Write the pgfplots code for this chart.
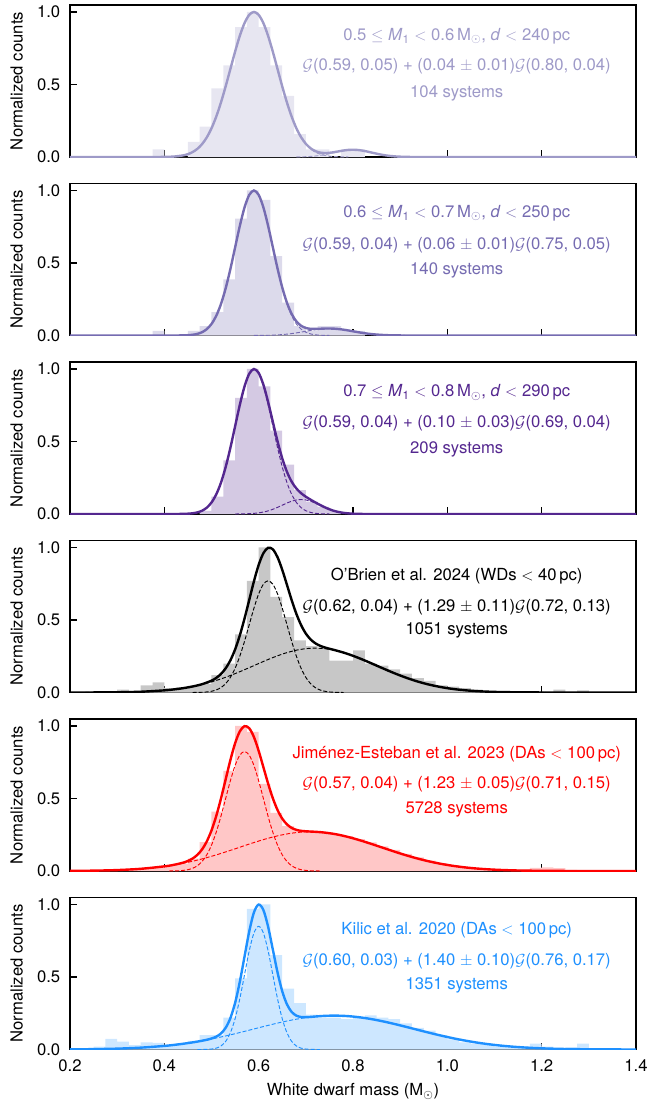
\documentclass[border=0pt]{standalone}
\usepackage{fontspec}
\setmainfont{TeX Gyre Heros}
\usepackage{pgfplots}
\pgfplotsset{compat=1.18}
\definecolor{c1}{HTML}{9E9AC8}
\definecolor{c2}{HTML}{756BB1}
\definecolor{c3}{HTML}{54278F}
\definecolor{c4}{HTML}{000000}
\definecolor{c5}{HTML}{FF0000}
\definecolor{c6}{HTML}{1E90FF}
\pgfplotsset{
 panel/.style={
  scale only axis, width=424.5pt, height=114pt,
  xmin=0.2, xmax=1.4, ymin=0, ymax=1.048,
  xtick={0.2,0.4,0.6,0.8,1.0,1.2,1.4}, ytick={0,0.5,1},
  tick pos=left, tick align=inside,
  major tick length=5pt,
  every tick/.style={black, line width=0.9pt},
  axis line style={line width=1.1pt},
  /pgf/number format/fixed, /pgf/number format/fixed zerofill,
  /pgf/number format/precision=1, /pgf/number format/assume math mode=true,
  tick label style={font=\fontsize{12.5pt}{15pt}\selectfont},
  label style={font=\fontsize{13.5pt}{16pt}\selectfont},
  yticklabel style={xshift=-3pt},
  xticklabel style={yshift=-3pt},
  ylabel={Normalized counts},
  every axis y label/.style={at={(axis description cs:-0.094,0.5)}, rotate=90, anchor=center},
  anchor=south west,
 },
 noxl/.style={xticklabels={}},
 solid line/.style={line width=1.8pt, smooth},
 dash line/.style={line width=0.7pt, smooth, dash pattern=on 3pt off 1.5pt},
}
\begin{document}
\fontsize{12.5pt}{15pt}\selectfont
\begin{tikzpicture}
\useasboundingbox (-52.5pt,-715.5pt) rectangle (434.25pt,117.75pt);
% ---------------- Panel 1
\begin{axis}[panel, noxl, at={(0pt,0pt)}]
\addplot[const plot, fill=c1!25, draw=none] coordinates {(0.375,0.053)(0.4,0)(0.45,0.105)(0.475,0.21)(0.5,0.474)(0.525,0.632)(0.55,0.895)(0.575,1.0)(0.6,0.895)(0.625,0.632)(0.65,0.421)(0.675,0.158)(0.7,0.053)(0.725,0.053)(0.75,0)(0.775,0.053)(0.8,0.053)(0.825,0)} \closedcycle;
\addplot[c1, dash line] coordinates {(0.39,0.0003)(0.40,0.0007)(0.41,0.0015)(0.42,0.0031)(0.43,0.0060)(0.44,0.0111)(0.45,0.0198)(0.46,0.0340)(0.47,0.0561)(0.48,0.0889)(0.49,0.1353)(0.50,0.1979)(0.51,0.2780)(0.52,0.3753)(0.53,0.4868)(0.54,0.6065)(0.55,0.7261)(0.56,0.8353)(0.57,0.9231)(0.58,0.9802)(0.59,1.0)(0.60,0.9802)(0.61,0.9231)(0.62,0.8353)(0.63,0.7261)(0.64,0.6065)(0.65,0.4868)(0.66,0.3753)(0.67,0.2780)(0.68,0.1979)(0.69,0.1353)(0.70,0.0889)(0.71,0.0561)(0.72,0.0340)(0.73,0.0198)(0.74,0.0111)(0.75,0.0060)(0.76,0.0031)(0.77,0.0015)(0.78,0.0007)(0.79,0.0003)};
\addplot[c1, dash line] coordinates {(0.68,0.0006)(0.69,0.0011)(0.70,0.0022)(0.71,0.0040)(0.72,0.0068)(0.73,0.0108)(0.74,0.0162)(0.75,0.0229)(0.76,0.0303)(0.77,0.0377)(0.78,0.0441)(0.79,0.0485)(0.80,0.0500)(0.81,0.0485)(0.82,0.0441)(0.83,0.0377)(0.84,0.0303)(0.85,0.0229)(0.86,0.0162)(0.87,0.0108)(0.88,0.0068)(0.89,0.0040)(0.90,0.0022)(0.91,0.0011)(0.92,0.0006)};
\addplot[c1, solid line] coordinates {(0.20,0)(0.35,0)(0.38,0.0001)(0.40,0.0007)(0.42,0.0031)(0.44,0.0111)(0.45,0.0198)(0.46,0.0340)(0.47,0.0561)(0.48,0.0889)(0.49,0.1353)(0.50,0.1979)(0.51,0.2780)(0.52,0.3753)(0.53,0.4868)(0.54,0.6065)(0.55,0.7261)(0.56,0.8353)(0.57,0.9231)(0.58,0.9802)(0.59,1.0)(0.60,0.9802)(0.61,0.9231)(0.62,0.8353)(0.63,0.7261)(0.64,0.6065)(0.65,0.4868)(0.66,0.3753)(0.67,0.2780)(0.68,0.1979)(0.69,0.1364)(0.70,0.0911)(0.71,0.0601)(0.72,0.0408)(0.73,0.0306)(0.74,0.0273)(0.75,0.0289)(0.76,0.0334)(0.77,0.0392)(0.78,0.0448)(0.79,0.0488)(0.80,0.0500)(0.81,0.0485)(0.82,0.0441)(0.83,0.0377)(0.84,0.0303)(0.85,0.0229)(0.86,0.0162)(0.87,0.0108)(0.88,0.0068)(0.89,0.0040)(0.90,0.0022)(0.92,0.0006)(0.95,0)(1.40,0)};
\node[anchor=base, text=c1] at (axis description cs:0.6833,0.768) {0.5 $\leq$ \textit{M}\textsubscript{1} $<$ 0.6\,M\textsubscript{$\odot$}, \textit{d} $<$ 240\,pc};
\node[anchor=base, text=c1] at (axis description cs:0.6833,0.566) {$\mathcal{G}$(0.59, 0.05) + (0.04 $\pm$ 0.01)$\mathcal{G}$(0.80, 0.04)};
\node[anchor=base, text=c1] at (axis description cs:0.6833,0.39) {104 systems};
\end{axis}
% ---------------- Panel 2
\begin{axis}[panel, noxl, at={(0pt,-133.875pt)}]
\addplot[const plot, fill=c2!25, draw=none] coordinates {(0.375,0.032)(0.4,0)(0.45,0.032)(0.475,0.065)(0.5,0.161)(0.525,0.387)(0.55,0.806)(0.575,1.0)(0.6,0.935)(0.625,0.548)(0.65,0.226)(0.675,0.065)(0.7,0.032)(0.725,0.065)(0.75,0.065)(0.775,0.032)(0.8,0.032)(0.825,0)} \closedcycle;
\addplot[c2, dash line] coordinates {(0.43,0.0003)(0.44,0.0009)(0.45,0.0022)(0.46,0.0051)(0.47,0.0111)(0.48,0.0228)(0.49,0.0439)(0.50,0.0796)(0.51,0.1353)(0.52,0.2163)(0.53,0.3247)(0.54,0.4578)(0.55,0.6065)(0.56,0.7548)(0.57,0.8825)(0.58,0.9692)(0.59,1.0)(0.60,0.9692)(0.61,0.8825)(0.62,0.7548)(0.63,0.6065)(0.64,0.4578)(0.65,0.3247)(0.66,0.2163)(0.67,0.1353)(0.68,0.0796)(0.69,0.0439)(0.70,0.0228)(0.71,0.0111)(0.72,0.0051)(0.73,0.0022)(0.74,0.0009)(0.75,0.0003)};
\addplot[c2, dash line] coordinates {(0.59,0.0003)(0.60,0.0005)(0.61,0.0010)(0.62,0.0016)(0.63,0.0027)(0.64,0.0043)(0.65,0.0065)(0.66,0.0095)(0.67,0.0133)(0.68,0.0180)(0.69,0.0234)(0.70,0.0291)(0.71,0.0349)(0.72,0.0401)(0.73,0.0443)(0.74,0.0471)(0.75,0.0480)(0.76,0.0471)(0.77,0.0443)(0.78,0.0401)(0.79,0.0349)(0.80,0.0291)(0.81,0.0234)(0.82,0.0180)(0.83,0.0133)(0.84,0.0095)(0.85,0.0065)(0.86,0.0043)(0.87,0.0027)(0.88,0.0016)(0.89,0.0010)(0.90,0.0005)(0.91,0.0003)};
\addplot[c2, solid line] coordinates {(0.20,0)(0.40,0)(0.43,0.0003)(0.44,0.0009)(0.45,0.0022)(0.46,0.0051)(0.47,0.0111)(0.48,0.0228)(0.49,0.0439)(0.50,0.0796)(0.51,0.1353)(0.52,0.2163)(0.53,0.3247)(0.54,0.4578)(0.55,0.6065)(0.56,0.7548)(0.57,0.8825)(0.58,0.9692)(0.59,1.0)(0.60,0.9697)(0.61,0.8835)(0.62,0.7564)(0.63,0.6092)(0.64,0.4621)(0.65,0.3312)(0.66,0.2258)(0.67,0.1486)(0.68,0.0976)(0.69,0.0673)(0.70,0.0519)(0.71,0.0460)(0.72,0.0452)(0.73,0.0465)(0.74,0.0480)(0.75,0.0483)(0.76,0.0471)(0.77,0.0443)(0.78,0.0401)(0.79,0.0349)(0.80,0.0291)(0.81,0.0234)(0.82,0.0180)(0.83,0.0133)(0.84,0.0095)(0.85,0.0065)(0.86,0.0043)(0.87,0.0027)(0.88,0.0016)(0.90,0.0005)(0.95,0)(1.40,0)};
\node[anchor=base, text=c2] at (axis description cs:0.6833,0.776) {0.6 $\leq$ \textit{M}\textsubscript{1} $<$ 0.7\,M\textsubscript{$\odot$}, \textit{d} $<$ 250\,pc};
\node[anchor=base, text=c2] at (axis description cs:0.6833,0.566) {$\mathcal{G}$(0.59, 0.04) + (0.06 $\pm$ 0.01)$\mathcal{G}$(0.75, 0.05)};
\node[anchor=base, text=c2] at (axis description cs:0.6833,0.40) {140 systems};
\end{axis}
% ---------------- Panel 3
\begin{axis}[panel, noxl, at={(0pt,-267.75pt)}]
\addplot[const plot, fill=c3!25, draw=none] coordinates {(0.475,0.021)(0.5,0.12)(0.525,0.37)(0.55,0.80)(0.575,1.0)(0.6,0.88)(0.625,0.575)(0.65,0.34)(0.675,0.165)(0.7,0.085)(0.725,0.05)(0.75,0.021)(0.775,0)} \closedcycle;
\addplot[c3, dash line] coordinates {(0.43,0.0003)(0.44,0.0009)(0.45,0.0022)(0.46,0.0051)(0.47,0.0111)(0.48,0.0228)(0.49,0.0439)(0.50,0.0796)(0.51,0.1353)(0.52,0.2163)(0.53,0.3247)(0.54,0.4578)(0.55,0.6065)(0.56,0.7548)(0.57,0.8825)(0.58,0.9692)(0.59,1.0)(0.60,0.9692)(0.61,0.8825)(0.62,0.7548)(0.63,0.6065)(0.64,0.4578)(0.65,0.3247)(0.66,0.2163)(0.67,0.1353)(0.68,0.0796)(0.69,0.0439)(0.70,0.0228)(0.71,0.0111)(0.72,0.0051)(0.73,0.0022)(0.74,0.0009)(0.75,0.0003)};
\addplot[c3, dash line] coordinates {(0.55,0.0002)(0.56,0.0005)(0.57,0.0011)(0.58,0.0023)(0.59,0.0044)(0.60,0.0080)(0.61,0.0135)(0.62,0.0216)(0.63,0.0325)(0.64,0.0458)(0.65,0.0607)(0.66,0.0755)(0.67,0.0883)(0.68,0.0969)(0.69,0.1000)(0.70,0.0969)(0.71,0.0883)(0.72,0.0755)(0.73,0.0607)(0.74,0.0458)(0.75,0.0325)(0.76,0.0216)(0.77,0.0135)(0.78,0.0080)(0.79,0.0044)(0.80,0.0023)(0.81,0.0011)(0.82,0.0005)(0.83,0.0002)};
\addplot[c3, solid line] coordinates {(0.20,0)(0.40,0)(0.43,0.0003)(0.44,0.0009)(0.45,0.0022)(0.46,0.0051)(0.47,0.0111)(0.48,0.0227)(0.49,0.0437)(0.50,0.0792)(0.51,0.1347)(0.52,0.2153)(0.53,0.3232)(0.54,0.4557)(0.55,0.6040)(0.56,0.7519)(0.57,0.8796)(0.58,0.9671)(0.59,0.9999)(0.60,0.9728)(0.61,0.8920)(0.62,0.7729)(0.63,0.6361)(0.64,0.5013)(0.65,0.3837)(0.66,0.2905)(0.67,0.2226)(0.68,0.1757)(0.69,0.1433)(0.70,0.1192)(0.71,0.0990)(0.72,0.0802)(0.73,0.0626)(0.74,0.0465)(0.75,0.0327)(0.76,0.0215)(0.77,0.0134)(0.78,0.0080)(0.79,0.0044)(0.80,0.0023)(0.81,0.0011)(0.82,0.0005)(0.85,0)(1.40,0)};
\node[anchor=base, text=c3] at (axis description cs:0.6833,0.77) {0.7 $\leq$ \textit{M}\textsubscript{1} $<$ 0.8\,M\textsubscript{$\odot$}, \textit{d} $<$ 290\,pc};
\node[anchor=base, text=c3] at (axis description cs:0.6833,0.566) {$\mathcal{G}$(0.59, 0.04) + (0.10 $\pm$ 0.03)$\mathcal{G}$(0.69, 0.04)};
\node[anchor=base, text=c3] at (axis description cs:0.6833,0.395) {209 systems};
\end{axis}
% ---------------- Panel 4
\begin{axis}[panel, noxl, at={(0pt,-401.625pt)}]
\addplot[const plot, fill=black!22, draw=none] coordinates {(0.25,0.01)(0.275,0)(0.3,0.02)(0.325,0.01)(0.35,0.05)(0.375,0.07)(0.4,0.03)(0.425,0.035)(0.45,0.045)(0.475,0.06)(0.5,0.12)(0.525,0.2)(0.55,0.40)(0.575,0.77)(0.6,1.0)(0.625,0.66)(0.65,0.52)(0.675,0.36)(0.7,0.32)(0.725,0.31)(0.75,0.22)(0.775,0.22)(0.8,0.29)(0.825,0.2)(0.85,0.185)(0.875,0.16)(0.9,0.13)(0.925,0.1)(0.95,0.08)(0.975,0.05)(1.0,0.04)(1.025,0.03)(1.05,0.02)(1.075,0.01)(1.1,0.01)(1.125,0)(1.15,0.01)(1.175,0)(1.225,0.02)(1.25,0)(1.275,0.015)(1.3,0)} \closedcycle;
\addplot[c4, dash line] coordinates {(0.46,0.0002)(0.47,0.0007)(0.48,0.0017)(0.49,0.0039)(0.50,0.0086)(0.51,0.0176)(0.52,0.0338)(0.53,0.0613)(0.54,0.1042)(0.55,0.1666)(0.56,0.2502)(0.57,0.3527)(0.58,0.4673)(0.59,0.5815)(0.60,0.6799)(0.61,0.7467)(0.62,0.7704)(0.63,0.7467)(0.64,0.6799)(0.65,0.5815)(0.66,0.4673)(0.67,0.3527)(0.68,0.2502)(0.69,0.1666)(0.70,0.1042)(0.71,0.0613)(0.72,0.0338)(0.73,0.0176)(0.74,0.0086)(0.75,0.0039)(0.76,0.0017)(0.77,0.0007)(0.78,0.0002)};
\addplot[c4, dash line] coordinates {(0.22,0.0002)(0.27,0.0008)(0.32,0.0027)(0.34,0.0042)(0.36,0.0066)(0.38,0.0100)(0.40,0.0148)(0.42,0.0213)(0.44,0.0300)(0.46,0.0414)(0.48,0.0556)(0.50,0.0730)(0.52,0.0937)(0.54,0.1173)(0.56,0.1434)(0.58,0.1713)(0.60,0.1998)(0.62,0.2275)(0.64,0.2531)(0.66,0.2750)(0.68,0.2918)(0.70,0.3022)(0.72,0.3059)(0.74,0.3022)(0.76,0.2918)(0.78,0.2750)(0.80,0.2531)(0.82,0.2275)(0.84,0.1998)(0.86,0.1713)(0.88,0.1434)(0.90,0.1173)(0.92,0.0937)(0.94,0.0730)(0.96,0.0556)(0.98,0.0414)(1.00,0.0300)(1.02,0.0213)(1.04,0.0148)(1.06,0.0100)(1.08,0.0066)(1.10,0.0042)(1.12,0.0027)(1.17,0.0008)(1.22,0.0002)};
\addplot[c4, solid line] coordinates {(0.20,0.0001)(0.25,0.0004)(0.30,0.0017)(0.35,0.0053)(0.40,0.0148)(0.42,0.0213)(0.44,0.0300)(0.46,0.0416)(0.48,0.0573)(0.50,0.0816)(0.51,0.1005)(0.52,0.1275)(0.53,0.1665)(0.54,0.2215)(0.55,0.2967)(0.56,0.3936)(0.57,0.5099)(0.58,0.6385)(0.59,0.7670)(0.60,0.8797)(0.61,0.9606)(0.62,0.9979)(0.63,0.9874)(0.64,0.9330)(0.65,0.8461)(0.66,0.7422)(0.67,0.6367)(0.68,0.5419)(0.69,0.4645)(0.70,0.4065)(0.71,0.3663)(0.72,0.3397)(0.73,0.3225)(0.74,0.3108)(0.75,0.3018)(0.76,0.2935)(0.78,0.2752)(0.80,0.2531)(0.82,0.2275)(0.84,0.1998)(0.86,0.1713)(0.88,0.1434)(0.90,0.1173)(0.92,0.0937)(0.94,0.0730)(0.96,0.0556)(0.98,0.0414)(1.00,0.0300)(1.02,0.0213)(1.04,0.0148)(1.06,0.0100)(1.08,0.0066)(1.10,0.0042)(1.12,0.0027)(1.17,0.0008)(1.22,0.0002)(1.30,0)(1.40,0)};
\node[anchor=base, text=c4] at (axis description cs:0.6833,0.737) {O'Brien et al. 2024 (WDs $<$ 40\,pc)};
\node[anchor=base, text=c4] at (axis description cs:0.6833,0.533) {$\mathcal{G}$(0.62, 0.04) + (1.29 $\pm$ 0.11)$\mathcal{G}$(0.72, 0.13)};
\node[anchor=base, text=c4] at (axis description cs:0.6833,0.38) {1051 systems};
\end{axis}
% ---------------- Panel 5
\begin{axis}[panel, noxl, at={(0pt,-535.5pt)}]
\addplot[const plot, fill=c5!22, draw=none] coordinates {(0.2,0.002)(0.225,0.002)(0.25,0.003)(0.275,0.005)(0.3,0.007)(0.325,0.01)(0.35,0.016)(0.375,0.022)(0.4,0.035)(0.425,0.05)(0.45,0.085)(0.475,0.2)(0.5,0.41)(0.525,0.69)(0.55,1.0)(0.575,0.96)(0.6,0.60)(0.625,0.40)(0.65,0.31)(0.675,0.28)(0.7,0.27)(0.725,0.265)(0.75,0.255)(0.775,0.24)(0.8,0.22)(0.825,0.198)(0.85,0.17)(0.875,0.145)(0.9,0.118)(0.925,0.094)(0.95,0.072)(0.975,0.054)(1.0,0.04)(1.025,0.029)(1.05,0.02)(1.075,0.014)(1.1,0.01)(1.125,0.008)(1.15,0.01)(1.175,0.022)(1.2,0.025)(1.225,0.02)(1.25,0.008)(1.275,0.004)(1.3,0)} \closedcycle;
\addplot[c5, dash line] coordinates {(0.41,0.0002)(0.42,0.0007)(0.43,0.0018)(0.44,0.0042)(0.45,0.0091)(0.46,0.0188)(0.47,0.0362)(0.48,0.0656)(0.49,0.1115)(0.50,0.1782)(0.51,0.2675)(0.52,0.3772)(0.53,0.4998)(0.54,0.6220)(0.55,0.7272)(0.56,0.7986)(0.57,0.8240)(0.58,0.7986)(0.59,0.7272)(0.60,0.6220)(0.61,0.4998)(0.62,0.3772)(0.63,0.2675)(0.64,0.1782)(0.65,0.1115)(0.66,0.0656)(0.67,0.0362)(0.68,0.0188)(0.69,0.0091)(0.70,0.0042)(0.71,0.0018)(0.72,0.0007)(0.73,0.0002)};
\addplot[c5, dash line] coordinates {(0.21,0.0011)(0.23,0.0016)(0.25,0.0025)(0.27,0.0036)(0.29,0.0054)(0.31,0.0077)(0.33,0.0110)(0.35,0.0152)(0.37,0.0207)(0.39,0.0278)(0.41,0.0366)(0.43,0.0473)(0.45,0.0602)(0.47,0.0751)(0.49,0.0922)(0.51,0.1111)(0.53,0.1316)(0.55,0.1530)(0.57,0.1749)(0.59,0.1963)(0.61,0.2164)(0.63,0.2344)(0.65,0.2495)(0.67,0.2609)(0.69,0.2679)(0.71,0.2703)(0.73,0.2679)(0.75,0.2609)(0.77,0.2495)(0.79,0.2344)(0.81,0.2164)(0.83,0.1963)(0.85,0.1749)(0.87,0.1530)(0.89,0.1316)(0.91,0.1111)(0.93,0.0922)(0.95,0.0751)(0.97,0.0602)(0.99,0.0473)(1.01,0.0366)(1.03,0.0278)(1.05,0.0207)(1.07,0.0152)(1.09,0.0110)(1.11,0.0077)(1.13,0.0054)(1.15,0.0036)(1.17,0.0025)(1.19,0.0016)(1.21,0.0011)};
\addplot[c5, solid line] coordinates {(0.20,0.0008)(0.25,0.0025)(0.30,0.0065)(0.35,0.0152)(0.40,0.0320)(0.42,0.0424)(0.44,0.0577)(0.45,0.0693)(0.46,0.0862)(0.47,0.1113)(0.48,0.1490)(0.49,0.2037)(0.50,0.2797)(0.51,0.3786)(0.52,0.4983)(0.53,0.6313)(0.54,0.7642)(0.55,0.8802)(0.56,0.9625)(0.57,0.9988)(0.58,0.9843)(0.59,0.9234)(0.60,0.8285)(0.61,0.7161)(0.62,0.6030)(0.63,0.5020)(0.64,0.4206)(0.65,0.3610)(0.66,0.3213)(0.67,0.2970)(0.68,0.2837)(0.69,0.2770)(0.70,0.2739)(0.71,0.2721)(0.72,0.2704)(0.73,0.2681)(0.74,0.2649)(0.76,0.2557)(0.78,0.2424)(0.80,0.2258)(0.82,0.2066)(0.84,0.1856)(0.86,0.1639)(0.88,0.1422)(0.90,0.1211)(0.92,0.1014)(0.94,0.0834)(0.96,0.0674)(0.98,0.0535)(1.00,0.0417)(1.02,0.0320)(1.04,0.0240)(1.06,0.0178)(1.08,0.0129)(1.10,0.0092)(1.12,0.0065)(1.15,0.0036)(1.20,0.0013)(1.25,0.0004)(1.30,0.0001)(1.40,0)};
\node[anchor=base, text=c5] at (axis description cs:0.6833,0.743) {Jiménez-Esteban et al. 2023 (DAs $<$ 100\,pc)};
\node[anchor=base, text=c5] at (axis description cs:0.6833,0.54) {$\mathcal{G}$(0.57, 0.04) + (1.23 $\pm$ 0.05)$\mathcal{G}$(0.71, 0.15)};
\node[anchor=base, text=c5] at (axis description cs:0.6833,0.38) {5728 systems};
\end{axis}
% ---------------- Panel 6
\begin{axis}[panel, at={(0pt,-669.375pt)},
  xlabel={White dwarf mass (M\textsubscript{$\odot$})},
  every axis x label/.style={at={(axis description cs:0.5,0)}, anchor=center, yshift=-31.5pt}]
\addplot[const plot, fill=c6!22, draw=none] coordinates {(0.25,0.02)(0.275,0.074)(0.3,0.055)(0.325,0.03)(0.35,0.05)(0.375,0.045)(0.4,0.03)(0.425,0.04)(0.45,0.06)(0.475,0.10)(0.5,0.10)(0.525,0.22)(0.55,0.49)(0.575,0.97)(0.6,1.0)(0.625,0.65)(0.65,0.42)(0.675,0.32)(0.7,0.24)(0.725,0.22)(0.75,0.22)(0.775,0.21)(0.8,0.22)(0.825,0.235)(0.85,0.22)(0.875,0.21)(0.9,0.18)(0.925,0.15)(0.95,0.13)(0.975,0.10)(1.0,0.07)(1.025,0.05)(1.05,0.04)(1.075,0.03)(1.1,0.02)(1.125,0.015)(1.15,0.02)(1.175,0.04)(1.2,0.02)(1.225,0.01)(1.25,0.015)(1.275,0.04)(1.3,0.01)(1.325,0)} \closedcycle;
\addplot[c6, dash line] coordinates {(0.47,0.0001)(0.48,0.0003)(0.49,0.0010)(0.50,0.0033)(0.51,0.0094)(0.52,0.0243)(0.53,0.0558)(0.54,0.1150)(0.55,0.2119)(0.56,0.3493)(0.57,0.5153)(0.58,0.6803)(0.59,0.8037)(0.60,0.8496)(0.61,0.8037)(0.62,0.6803)(0.63,0.5153)(0.64,0.3493)(0.65,0.2119)(0.66,0.1150)(0.67,0.0558)(0.68,0.0243)(0.69,0.0094)(0.70,0.0033)(0.71,0.0010)(0.72,0.0003)(0.73,0.0001)};
\addplot[c6, dash line] coordinates {(0.20,0.0010)(0.22,0.0015)(0.24,0.0022)(0.26,0.0031)(0.28,0.0043)(0.30,0.0060)(0.32,0.0082)(0.34,0.0110)(0.36,0.0147)(0.38,0.0192)(0.40,0.0248)(0.42,0.0316)(0.44,0.0397)(0.46,0.0492)(0.48,0.0602)(0.50,0.0725)(0.52,0.0862)(0.54,0.1011)(0.56,0.1169)(0.58,0.1334)(0.60,0.1500)(0.62,0.1664)(0.64,0.1821)(0.66,0.1965)(0.68,0.2091)(0.70,0.2195)(0.72,0.2272)(0.74,0.2320)(0.76,0.2336)(0.78,0.2320)(0.80,0.2272)(0.82,0.2195)(0.84,0.2091)(0.86,0.1965)(0.88,0.1821)(0.90,0.1664)(0.92,0.1500)(0.94,0.1334)(0.96,0.1169)(0.98,0.1011)(1.00,0.0862)(1.02,0.0725)(1.04,0.0602)(1.06,0.0492)(1.08,0.0397)(1.10,0.0316)(1.12,0.0248)(1.14,0.0192)(1.16,0.0147)(1.18,0.0110)(1.20,0.0082)(1.22,0.0060)(1.24,0.0043)(1.26,0.0031)(1.28,0.0022)(1.30,0.0015)(1.32,0.0010)};
\addplot[c6, solid line] coordinates {(0.20,0.0010)(0.25,0.0026)(0.30,0.0060)(0.35,0.0128)(0.40,0.0248)(0.42,0.0316)(0.44,0.0397)(0.46,0.0492)(0.47,0.0546)(0.48,0.0605)(0.49,0.0672)(0.50,0.0758)(0.51,0.0886)(0.52,0.1105)(0.53,0.1493)(0.54,0.2161)(0.55,0.3208)(0.56,0.4662)(0.57,0.6404)(0.58,0.8137)(0.59,0.9454)(0.60,0.9996)(0.61,0.9620)(0.62,0.8467)(0.63,0.6897)(0.64,0.5314)(0.65,0.4014)(0.66,0.3115)(0.67,0.2589)(0.68,0.2334)(0.69,0.2240)(0.70,0.2228)(0.71,0.2247)(0.72,0.2275)(0.74,0.2320)(0.76,0.2336)(0.78,0.2320)(0.80,0.2272)(0.82,0.2195)(0.84,0.2091)(0.86,0.1965)(0.88,0.1821)(0.90,0.1664)(0.92,0.1500)(0.94,0.1334)(0.96,0.1169)(0.98,0.1011)(1.00,0.0862)(1.02,0.0725)(1.04,0.0602)(1.06,0.0492)(1.08,0.0397)(1.10,0.0316)(1.12,0.0248)(1.14,0.0192)(1.16,0.0147)(1.18,0.0110)(1.20,0.0082)(1.22,0.0060)(1.24,0.0043)(1.26,0.0031)(1.28,0.0022)(1.30,0.0015)(1.32,0.0010)(1.36,0.0005)(1.40,0.0002)};
\node[anchor=base, text=c6] at (axis description cs:0.6833,0.757) {Kilic et al. 2020 (DAs $<$ 100\,pc)};
\node[anchor=base, text=c6] at (axis description cs:0.6833,0.553) {$\mathcal{G}$(0.60, 0.03) + (1.40 $\pm$ 0.10)$\mathcal{G}$(0.76, 0.17)};
\node[anchor=base, text=c6] at (axis description cs:0.6833,0.395) {1351 systems};
\end{axis}
\end{tikzpicture}
\end{document}
